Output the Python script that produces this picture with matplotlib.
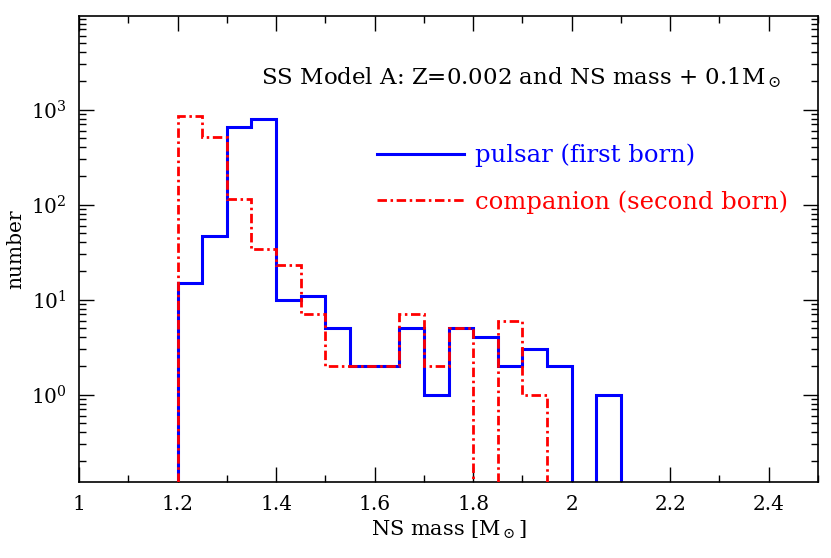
import numpy as np
import matplotlib
matplotlib.use("Agg")
import matplotlib.pyplot as plt
from matplotlib.ticker import MultipleLocator, FuncFormatter, LogLocator, LogFormatterMathtext, NullFormatter

plt.rcParams['font.family'] = ['DejaVu Serif']
plt.rcParams['mathtext.fontset'] = 'dejavuserif'

# bin edges (NS mass, Msun)
bin_edges = [1.20, 1.25, 1.30, 1.35, 1.40, 1.45, 1.50, 1.55, 1.60, 1.65,
             1.70, 1.75, 1.80, 1.85, 1.90, 1.95, 2.00, 2.05, 2.10]
pulsar_counts = [15, 47, 650, 800, 10, 11, 5, 2, 2, 5, 1, 5, 4, 2, 3, 2, 0, 1]
companion_counts = [850, 520, 115, 34, 23, 7, 2, 2, 2, 7, 2, 5, 0, 6, 1, 0, 0, 0]

pulsar_label = "pulsar (first born)"
companion_label = "companion (second born)"
title_text = r"SS Model A: Z=0.002 and NS mass + 0.1M$_\odot$"

fig = plt.figure(figsize=(8.31, 5.58), dpi=100)
ax = fig.add_axes([79/831, 1 - 482/558, (818-79)/831, (482-16)/558])

floor = 1e-3
edges = np.array(bin_edges)
p = np.array(pulsar_counts, float)
c = np.array(companion_counts, float)
p_plot = np.where(p > 0, p, floor)
c_plot = np.where(c > 0, c, floor)

ax.stairs(p_plot, edges, baseline=floor, color='#0000ff', lw=2.2, label=pulsar_label, zorder=2)
ax.stairs(c_plot, edges, baseline=floor, color='#ff0000', lw=2.0,
          linestyle=(0, (3.4, 1.3, 0.9, 1.3)), label=companion_label, zorder=3)

ax.set_yscale('log')
ax.set_xlim(1.0, 2.5)
ax.set_ylim(10**-0.92, 10**3.985)

ax.xaxis.set_major_locator(MultipleLocator(0.2))
ax.xaxis.set_minor_locator(MultipleLocator(0.1))
ax.xaxis.set_major_formatter(FuncFormatter(lambda v, pos: "%g" % round(v, 3)))
ax.yaxis.set_major_locator(LogLocator(base=10, numticks=10))
ax.yaxis.set_minor_locator(LogLocator(base=10, subs=np.arange(2, 10), numticks=20))
ax.yaxis.set_major_formatter(LogFormatterMathtext())
ax.yaxis.set_minor_formatter(NullFormatter())

ax.tick_params(which='both', direction='in', top=True, right=True, width=1.0, colors='black')
ax.tick_params(which='major', length=11, labelsize=14.5, pad=9)
ax.tick_params(which='minor', length=5)
for s in ax.spines.values():
    s.set_linewidth(1.2)

ax.set_xlabel(r"NS mass [M$_\odot$]", fontsize=15, labelpad=4)
ax.set_ylabel("number", fontsize=14.5, labelpad=4)

ax.text(0.951, 0.867, title_text, transform=ax.transAxes, ha='right', va='center', fontsize=16.5)

leg = ax.legend(loc='upper left', bbox_to_anchor=(0.39, 0.747), frameon=False, fontsize=17.5,
                handlelength=3.6, handletextpad=0.45, labelspacing=0.95, borderaxespad=0)
for t, col in zip(leg.get_texts(), ['#0000ff', '#ff0000']):
    t.set_color(col)

fig.savefig("out.png", dpi=100)
